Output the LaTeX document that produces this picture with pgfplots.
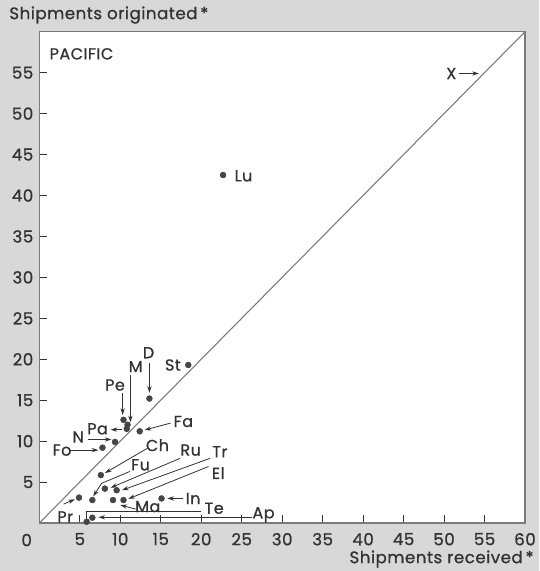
\documentclass[border=0pt]{standalone}
\usepackage{fontspec}
\setmainfont{Poppins}[FakeBold=0.8, LetterSpace=3]
\usepackage{pgfplots}
\pgfplotsset{compat=1.18}
\usetikzlibrary{arrows.meta}
\definecolor{ink}{HTML}{333333}
\definecolor{dot}{HTML}{454545}
\definecolor{bg}{HTML}{D8D8D8}
\definecolor{frame}{HTML}{7A7A7A}
\tikzset{
  lbl/.style={font=\fontsize{12}{14}\selectfont, text=ink, inner sep=0pt},
  arr/.style={ink, line width=0.6pt, -{Stealth[length=5pt,width=3.2pt]}},
  ln/.style={ink, line width=0.6pt},
}
\begin{document}
\begin{tikzpicture}
\fill[bg] (-29.5pt,-36pt) rectangle (374.8pt,392.3pt);
\begin{axis}[at={(0,0)}, anchor=south west, scale only axis,
  width=364.3pt, height=368.5pt,
  xmin=0, xmax=60, ymin=0, ymax=60,
  axis background/.style={fill=white},
  axis line style={frame, line width=0.8pt},
  xtick={5,10,...,60}, ytick={5,10,...,55},
  xtick pos=bottom, ytick pos=left, tick align=inside,
  major tick length=6pt, tick style={ink, line width=0.6pt},
  ticklabel style={font=\fontsize{12.5}{14}\selectfont, text=ink},
  /pgf/number format/assume math mode=true,
  xticklabel style={yshift=-4pt},
  yticklabel style={xshift=-1pt},
  clip=false,
]
% diagonal x = y
\addplot[frame, line width=0.8pt, no marks] coordinates {(0,0) (60,60)};
% data points
\addplot[only marks, mark=*, mark size=2.2pt, color=dot] coordinates {
  (22.7,42.5) (18.4,19.3) (13.6,15.2) (10.4,12.6) (10.9,12.0) (10.8,11.5)
  (12.4,11.2) (9.35,9.9) (7.8,9.2) (7.6,5.85) (6.55,2.8) (8.1,4.2)
  (9.55,4.0) (10.4,2.8) (9.1,2.8) (15.1,3.0) (6.55,0.65) (5.85,0.15)
  (4.9,3.1)
};
% labels
\node[anchor=west, font=\fontsize{12.5}{14}\selectfont, text=ink] at (rel axis cs:0,1) [xshift=-26pt, yshift=12.5pt] {Shipments originated\,*};
\node[anchor=east, font=\fontsize{12.5}{14}\selectfont, text=ink] at (rel axis cs:1,0) [xshift=10pt, yshift=-27pt] {Shipments received\,*};
\node[anchor=center, font=\fontsize{12.5}{14}\selectfont, text=ink] at (rel axis cs:0,0) [xshift=-9.5pt, yshift=-12.8pt] {0};
\node[anchor=west, font=\fontsize{12}{14}\selectfont, text=ink] at (axis cs:0.7,57.3) {PACIFIC};
% X
\node[lbl] at (axis cs:50.9,54.9) {X};
\draw[arr] (axis cs:51.9,54.9) -- (axis cs:54.3,54.9);
% Lu
\node[lbl, anchor=west] at (axis cs:24.1,42.4) {Lu};
% St
\node[lbl, anchor=east] at (axis cs:17.5,19.3) {St};
% D
\node[lbl] at (axis cs:13.5,20.8) {D};
\draw[arr] (axis cs:13.6,19.6) -- (axis cs:13.6,15.9);
% M
\node[lbl] at (axis cs:11.9,19.1) {M};
\draw[arr] (axis cs:11.25,18.1) -- (axis cs:11.25,12.3);
% Pe
\node[lbl] at (axis cs:9.35,16.85) {Pe};
\draw[arr] (axis cs:10.3,15.9) -- (axis cs:10.3,13.2);
% Pa
\node[lbl, anchor=east] at (axis cs:8.5,11.5) {Pa};
\draw[arr] (axis cs:10.2,11.4) -- (axis cs:8.8,11.4);
% Fa
\node[lbl] at (axis cs:17.8,12.4) {Fa};
\draw[arr] (axis cs:16.2,12.2) -- (axis cs:13.0,11.35);
% N
\node[lbl] at (axis cs:4.8,10.5) {N};
\draw[arr] (axis cs:6.0,10.2) -- (axis cs:8.9,10.2);
% Fo
\node[lbl] at (axis cs:2.8,8.9) {Fo};
\draw[arr] (axis cs:3.8,8.9) -- (axis cs:7.3,8.9);
% Ch
\node[lbl] at (axis cs:14.6,9.5) {Ch};
\draw[arr] (axis cs:13.3,9.1) -- (axis cs:8.1,6.1);
% Fu
\node[lbl] at (axis cs:12.5,7.1) {Fu};
\draw[arr] (axis cs:11.2,6.3) -- (axis cs:7.7,4.85) -- (axis cs:6.65,3.25);
% Ru
\node[lbl] at (axis cs:18.7,8.9) {Ru};
\draw[arr] (axis cs:17.4,7.9) -- (axis cs:8.8,4.3);
% Tr
\node[lbl] at (axis cs:22.3,8.7) {Tr};
\draw[arr] (axis cs:21.1,7.9) -- (axis cs:10.2,4.0);
% El
\node[lbl] at (axis cs:22.1,6.1) {El};
\draw[arr] (axis cs:20.9,6.9) -- (axis cs:11.0,2.95);
% Ma
\node[lbl] at (axis cs:13.4,2.0) {Ma};
\draw[arr] (axis cs:11.9,1.7) -- (axis cs:10.0,2.2);
% In
\node[lbl] at (axis cs:19.0,3.0) {In};
\draw[arr] (axis cs:17.8,3.0) -- (axis cs:15.8,3.0);
% Te
\node[lbl] at (axis cs:21.6,1.8) {Te};
\draw[ln] (axis cs:20.0,1.4) -- (axis cs:5.85,1.4) -- (axis cs:5.85,0.5);
% Ap
\node[lbl] at (axis cs:27.7,1.0) {Ap};
\draw[arr] (axis cs:26.3,0.7) -- (axis cs:7.3,0.7);
% Pr
\node[lbl] at (axis cs:3.2,0.75) {Pr};
% unlabeled arrow
\draw[arr] (axis cs:3.0,2.3) -- (axis cs:4.4,2.9);
\end{axis}
\pgfresetboundingbox
\useasboundingbox (-29.5pt,-36pt) rectangle (374.8pt,392.3pt);
\end{tikzpicture}
\end{document}
